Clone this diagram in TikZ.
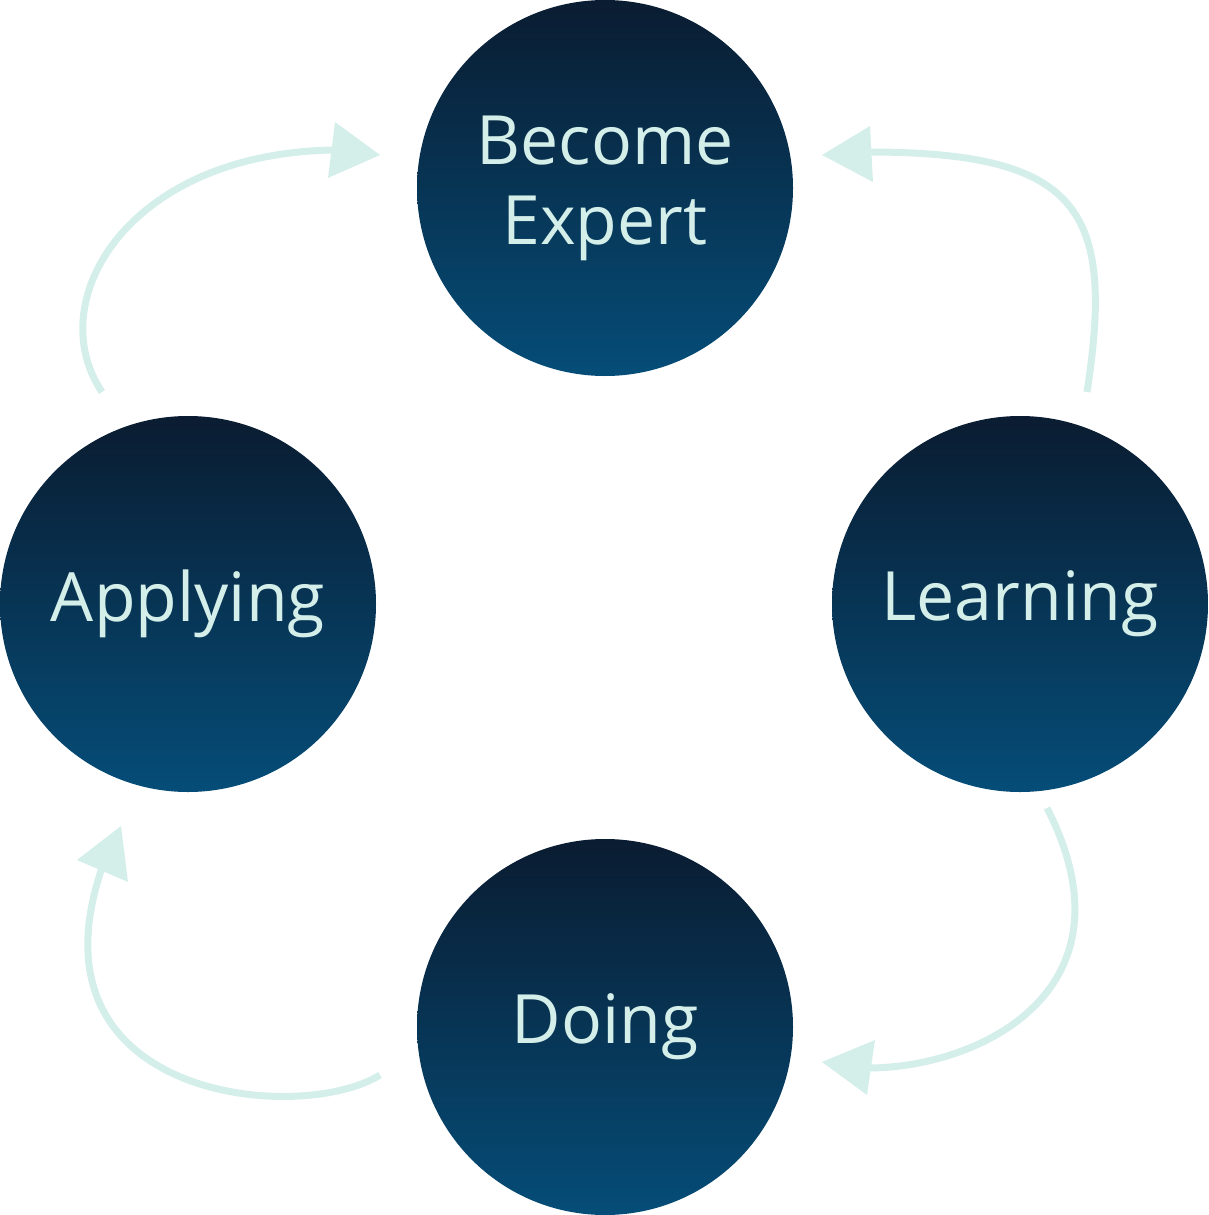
\documentclass[tikz,border=0pt]{standalone}
\usepackage{fontspec}
\setmainfont{Open Sans}
\definecolor{dk}{HTML}{0A1C31}
\definecolor{lt}{HTML}{054D78}
\definecolor{mint}{HTML}{D4EEEA}
\begin{document}
\begin{tikzpicture}[x=1pt,y=-1pt,
 stage/.style={circle,minimum size=376pt,inner sep=0pt,top color=dk,bottom color=lt,text=mint,font=\fontsize{68}{80}\selectfont,align=center},
 flow/.style={draw=mint,line width=7pt},
 head/.style={fill=mint}]
\useasboundingbox (0,0) rectangle (1208,1215);
\node[stage] (be) at (605,188) {Become\\Expert};
\node[stage] (ap) at (188,604) {Applying};
\node[stage] (le) at (1020,604) {Learning};
\node[stage] (do) at (605,1027) {Doing};
\coordinate (a1) at (102,392);
\coordinate (a2) at (340,150);
\draw[flow] (a1) .. controls (40,300) and (130,150) .. (a2);
\fill[head] (335,122) -- (380,155) -- (328,178) -- cycle;
\coordinate (b1) at (1087,392);
\coordinate (b2) at (868,152);
\draw[flow] (b1) .. controls (1115,210) and (1080,152) .. (b2);
\fill[head] (870,126) -- (822,155) -- (873,182) -- cycle;
\coordinate (c1) at (1047,808);
\coordinate (c2) at (868,1068);
\draw[flow] (c1) .. controls (1140,990) and (980,1068) .. (c2);
\fill[head] (875,1040) -- (822,1062) -- (867,1095) -- cycle;
\coordinate (d1) at (380,1075);
\coordinate (d2) at (103,865);
\draw[flow] (d1) .. controls (300,1125) and (20,1100) .. (d2);
\fill[head] (77,860) -- (121,826) -- (128,882) -- cycle;
\end{tikzpicture}
\end{document}
